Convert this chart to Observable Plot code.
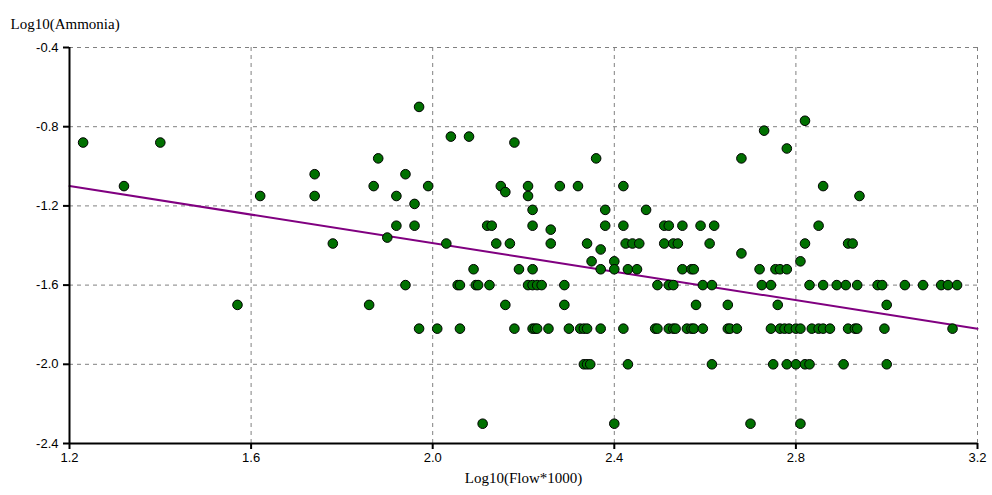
<!DOCTYPE html>
<html>
<head>
<meta charset="utf-8">
<script src="https://cdn.jsdelivr.net/npm/d3@7"></script>
<script src="https://cdn.jsdelivr.net/npm/@observablehq/plot@0.6"></script>
<style>
  html, body { margin: 0; padding: 0; background: #fff; }
  #chart svg { display: block; }
</style>
</head>
<body>
<div id="chart"></div>
<script>
// Log10(Flow*1000) values
const flow = [
  1.23, 1.40, 1.32, 1.57, 1.62, 1.74, 1.74, 1.97, 2.04, 2.08,
  2.18, 1.88, 1.94, 1.87, 1.99, 1.92, 1.96, 2.15, 2.16, 1.92,
  1.96, 2.12, 2.13, 1.78, 1.90, 2.03, 2.14, 2.17, 2.09, 2.19,
  1.94, 2.055, 2.06, 2.095, 2.10, 2.125, 1.86, 2.16, 1.97, 2.01,
  2.06, 2.18, 2.11,
  2.36, 2.21, 2.28, 2.32, 2.42, 2.21, 2.22, 2.38, 2.47, 2.22,
  2.26, 2.38, 2.42, 2.51, 2.52, 2.55, 2.59, 2.62, 2.26, 2.34,
  2.37, 2.425, 2.44, 2.455, 2.51, 2.53, 2.54, 2.61, 2.35, 2.40,
  2.37, 2.40, 2.22, 2.43, 2.45, 2.55, 2.57, 2.575, 2.21, 2.22,
  2.23, 2.24, 2.29, 2.495, 2.52, 2.53, 2.595, 2.615, 2.29, 2.58,
  2.22, 2.225, 2.23, 2.255, 2.30, 2.325, 2.333, 2.34, 2.37, 2.42,
  2.49, 2.495, 2.52, 2.53, 2.535, 2.56, 2.57, 2.575, 2.595, 2.333,
  2.34, 2.347, 2.43, 2.615, 2.40,
  2.82, 2.73, 2.78, 2.68, 2.86, 2.94, 2.85, 2.68, 2.82, 2.915,
  2.925, 2.81, 2.72, 2.755, 2.765, 2.78, 2.725, 2.745, 2.83, 2.86,
  2.89, 2.91, 2.935, 2.98, 2.99, 3.04, 3.08, 3.12, 3.135, 3.155,
  2.65, 2.76, 3.00, 2.65, 2.655, 2.67, 2.745, 2.765, 2.775, 2.785,
  2.80, 2.81, 2.835, 2.85, 2.86, 2.875, 2.915, 2.93, 2.935, 2.995,
  3.145, 2.75, 2.78, 2.80, 2.82, 2.83, 2.905, 3.00, 2.70, 2.81
];
// Log10(Ammonia) values
const ammonia = [
  -0.88, -0.88, -1.10, -1.70, -1.15, -1.04, -1.15, -0.70, -0.85, -0.85,
  -0.88, -0.96, -1.04, -1.10, -1.10, -1.15, -1.19, -1.10, -1.13, -1.30,
  -1.30, -1.30, -1.30, -1.39, -1.36, -1.39, -1.39, -1.39, -1.52, -1.52,
  -1.60, -1.60, -1.60, -1.60, -1.60, -1.60, -1.70, -1.70, -1.82, -1.82,
  -1.82, -1.82, -2.30,
  -0.96, -1.10, -1.10, -1.10, -1.10, -1.15, -1.22, -1.22, -1.22, -1.30,
  -1.32, -1.30, -1.30, -1.30, -1.30, -1.30, -1.30, -1.30, -1.39, -1.39,
  -1.42, -1.39, -1.39, -1.39, -1.39, -1.39, -1.39, -1.39, -1.48, -1.48,
  -1.52, -1.52, -1.52, -1.52, -1.52, -1.52, -1.52, -1.52, -1.60, -1.60,
  -1.60, -1.60, -1.60, -1.60, -1.60, -1.60, -1.60, -1.60, -1.70, -1.70,
  -1.82, -1.82, -1.82, -1.82, -1.82, -1.82, -1.82, -1.82, -1.82, -1.82,
  -1.82, -1.82, -1.82, -1.82, -1.82, -1.82, -1.82, -1.82, -1.82, -2.00,
  -2.00, -2.00, -2.00, -2.00, -2.30,
  -0.77, -0.82, -0.91, -0.96, -1.10, -1.15, -1.30, -1.44, -1.39, -1.39,
  -1.39, -1.48, -1.52, -1.52, -1.52, -1.52, -1.60, -1.60, -1.60, -1.60,
  -1.60, -1.60, -1.60, -1.60, -1.60, -1.60, -1.60, -1.60, -1.60, -1.60,
  -1.70, -1.70, -1.70, -1.82, -1.82, -1.82, -1.82, -1.82, -1.82, -1.82,
  -1.82, -1.82, -1.82, -1.82, -1.82, -1.82, -1.82, -1.82, -1.82, -1.82,
  -1.82, -2.00, -2.00, -2.00, -2.00, -2.00, -2.00, -2.00, -2.30, -2.30
];
// Fitted regression line
const fitIntercept = -0.668;
const fitSlope = -0.36;
const fitRange = [1.2, 3.2];

const xTicks = [1.2, 1.6, 2.0, 2.4, 2.8, 3.2];
const yTicks = [-2.4, -2.0, -1.6, -1.2, -0.8, -0.4];
const xTitle = "Log10(Flow*1000)";
const yTitle = "Log10(Ammonia)";

const points = flow.map((f, i) => ({x: f, y: ammonia[i]}));
const fit = fitRange.map(x => ({x, y: fitIntercept + fitSlope * x}));
const fmt = d => d.toFixed(1);

const serif = "'Liberation Serif', 'Times New Roman', serif";
const sans = "'Liberation Sans', Arial, sans-serif";

const chart = Plot.plot({
  width: 992,
  height: 495,
  marginLeft: 69,
  marginRight: 15,
  marginTop: 47,
  marginBottom: 52,
  style: {background: "#fff", fontFamily: sans, fontSize: "13px", color: "#000"},
  x: {domain: [1.2, 3.2]},
  y: {domain: [-2.4, -0.4]},
  marks: [
    Plot.gridX(xTicks, {stroke: "#808080", strokeOpacity: 1, strokeDasharray: "4,4"}),
    Plot.gridY(yTicks, {stroke: "#808080", strokeOpacity: 1, strokeDasharray: "4,4"}),
    Plot.line(fit, {x: "x", y: "y", stroke: "#800080", strokeWidth: 2}),
    Plot.dot(points, {x: "x", y: "y", r: 4.8, fill: "#007000", stroke: "#000", strokeWidth: 1}),
    Plot.ruleX([1.2], {stroke: "#000", strokeWidth: 2}),
    Plot.ruleY([-2.4], {stroke: "#000", strokeWidth: 2}),
    Plot.axisX(xTicks, {tickSize: 6, tickPadding: 3, tickFormat: fmt, label: null, strokeWidth: 2, fontSize: 13, fontFamily: sans}),
    Plot.axisY(yTicks, {tickSize: 6, tickPadding: 5, tickFormat: fmt, label: null, strokeWidth: 2, fontSize: 13, fontFamily: sans}),
    Plot.text([xTitle], {frameAnchor: "bottom", text: d => d, dy: 39, fontFamily: serif, fontSize: 15, fill: "#000"}),
    Plot.text([yTitle], {frameAnchor: "top-left", text: d => d, dx: -59, dy: -29, textAnchor: "start", fontFamily: serif, fontSize: 15, fill: "#000"})
  ]
});
document.getElementById("chart").appendChild(chart);
</script>
</body>
</html>
